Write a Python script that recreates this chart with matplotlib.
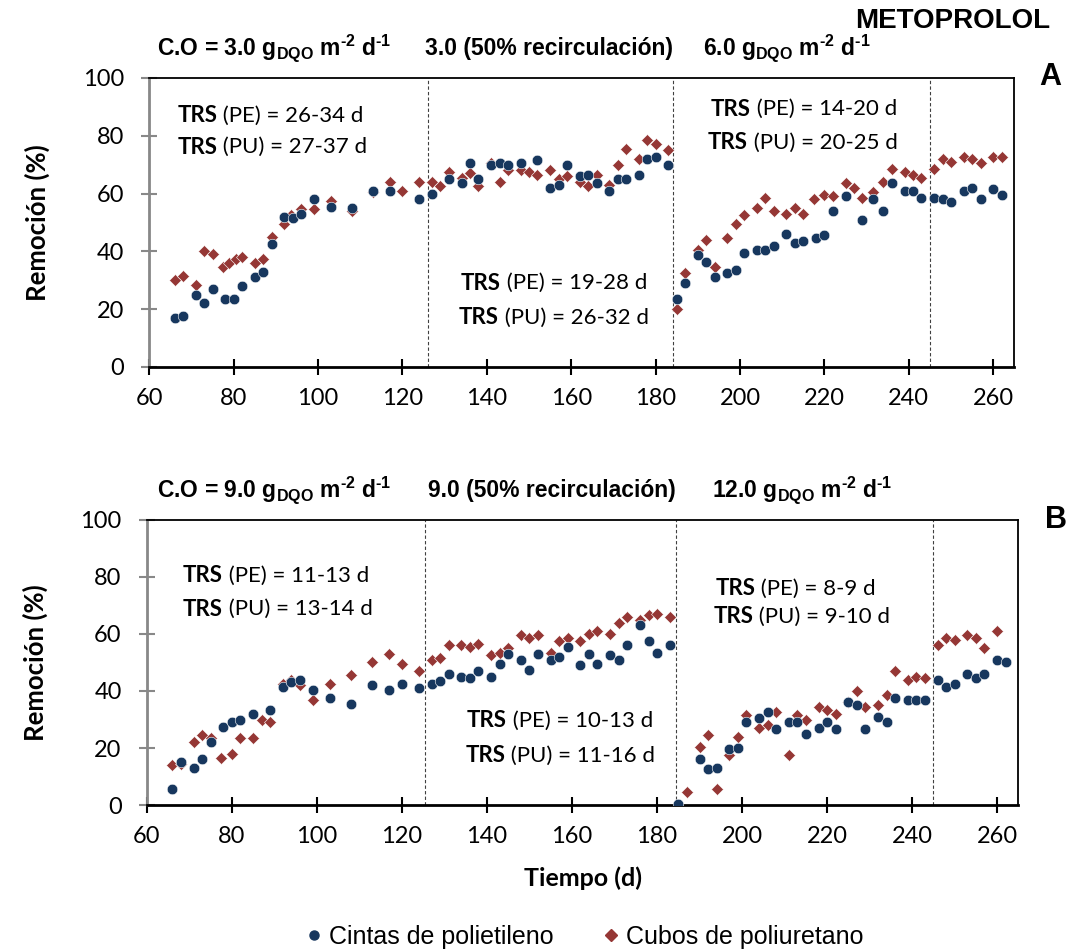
import matplotlib
matplotlib.use('Agg')
import matplotlib.pyplot as plt
from matplotlib import font_manager
from matplotlib.lines import Line2D

# data: day and removal (%) for each carrier
a_pe_day = [66, 68, 71, 73, 75, 78, 80, 82, 85, 87, 89, 92, 94, 96, 99, 103, 108, 113, 117, 124,
            127, 131, 134, 136, 138, 141, 143, 145, 148, 152, 155, 157, 159, 162, 164, 166, 169, 171, 173, 176,
            178, 180, 183, 185, 187, 190, 192, 194, 197, 199, 201, 204, 206, 208, 211, 213, 215, 218, 220, 222,
            225, 229, 231.5, 234, 236, 239, 241, 243, 246, 248, 250, 253, 255, 257, 260, 262]
a_pe_val = [17, 17.5, 25, 22, 27, 23.5, 23.5, 28, 31, 33, 42.5, 52, 51.5, 53, 58, 55.5, 55, 61, 61, 58,
            60, 65, 63.5, 70.5, 65, 70, 70.5, 70, 70.5, 71.5, 62, 63, 70, 66, 66.5, 63.5, 61, 65, 65, 66.5,
            72, 72.5, 70, 23.5, 29, 38.7, 36.5, 31, 32.5, 33.5, 39.5, 40.5, 40.5, 42, 46, 43, 43.5, 44.5, 45.5, 54,
            59, 51, 58, 54, 63.5, 61, 61, 58.5, 58.5, 58, 57, 61, 62, 58, 61.5, 59.5]

a_pu_day = [66, 68, 71, 73, 75, 77.5, 79, 80.5, 82, 85, 87, 89, 92, 93.5, 96, 99, 103, 108, 113, 117,
            120, 124, 127, 129, 131, 134, 136, 138, 141, 143, 145, 148, 150, 152, 155, 157, 159, 162, 164, 166,
            169, 171, 173, 176, 178, 180, 183, 185, 187, 190, 192, 194, 197, 199, 201, 204, 206, 208, 211, 213,
            215, 217.5, 220, 222, 225, 227, 229, 231.5, 234, 236, 239, 241, 243, 246, 248, 250, 253, 255, 257, 260,
            262]
a_pu_val = [30, 31.5, 28.5, 40, 39, 34.5, 36, 37.5, 38, 36, 37.5, 45, 49.5, 52.5, 54.5, 54.5, 57.5, 54, 60.5, 64,
            61, 64, 64, 62.5, 67.5, 65.5, 67, 62.5, 70.5, 64, 68, 68, 67.5, 66.5, 68, 65, 66, 64, 62.5, 66.5,
            63, 70, 75.5, 72, 78.5, 77, 75, 20, 32.5, 40.5, 44, 34.5, 44.5, 49.5, 52.5, 55, 58.5, 54, 53, 55,
            53, 58, 59.5, 59, 63.5, 62, 58.5, 60.5, 64, 68.5, 67.5, 66.5, 65.5, 68.5, 72, 71, 72.5, 72, 70.5, 72.5,
            72.5]

b_pe_day = [66, 68, 71, 73, 75, 78, 80, 82, 85, 89, 92, 94, 96, 99, 103, 108, 113, 117, 120, 124,
            127, 129, 131, 134, 136, 138, 141, 143, 145, 148, 150, 152, 155, 157, 159, 162, 164, 166, 169, 171,
            173, 176, 178, 180, 183, 185, 190, 192, 194, 197, 199, 201, 204, 206, 208, 211, 213, 215, 218, 220,
            222, 225, 227, 229, 232, 234, 236, 239, 241, 243, 246, 248, 250, 253, 255, 257, 260, 262]
b_pe_val = [5.5, 15, 13, 16, 22, 27.5, 29, 30, 32, 33.5, 41.5, 43, 44, 40.5, 37.5, 35.5, 42, 40.5, 42.5, 41,
            42.5, 43.5, 46, 45, 44.5, 47, 45, 49.5, 53, 51, 47.5, 53, 51, 52, 55.5, 49, 53, 49.5, 52.5, 51,
            56, 63, 57.5, 53.5, 56, 0.5, 16, 12.5, 13, 19.5, 20, 29, 30.5, 32.5, 26.5, 29, 29, 25, 27, 29,
            26.5, 36, 35, 26.5, 31, 29, 37.5, 37, 37, 37, 44, 41.5, 42.5, 46, 44.5, 46, 51, 50]

b_pu_day = [66, 68, 71, 73, 75, 77.5, 80, 82, 85, 87, 89, 92, 94, 96, 99, 103, 108, 113, 117, 120,
            124, 127, 129, 131, 134, 136, 138, 141, 143, 145, 148, 150, 152, 155, 157, 159, 162, 164, 166, 169,
            171, 173, 176, 178, 180, 183, 187, 190, 192, 194, 197, 199, 201, 204, 206, 208, 211, 213, 215, 218,
            220, 222, 225, 227, 229, 232, 234, 236, 239, 241, 243, 246, 248, 250, 253, 255, 257, 260]
b_pu_val = [14, 14.5, 22, 24.5, 23.5, 16.5, 18, 23.5, 23.5, 30, 29, 42.5, 44, 42, 37, 42.5, 45.5, 50, 53, 49.5,
            47, 51, 51.5, 56, 56, 55.5, 56.5, 52.5, 53.5, 55, 59.5, 58.5, 59.5, 53.5, 57.5, 58.5, 57.5, 60, 61, 60,
            64, 66, 65, 66.5, 67, 66, 4.5, 20.5, 24.5, 5.5, 17.5, 24, 31.5, 27, 28, 32.5, 17.5, 31.5, 30, 34.5,
            33.5, 32, 36, 40, 34.5, 35, 38.5, 47, 44, 45, 44.5, 56, 58.5, 58, 59.5, 58.5, 55, 61]

# phase limits (days) and labels
a_limits = [126, 184, 245]
b_limits = [125.5, 184.5, 245]
hy = '\u2010'  # plain hyphen inside the superscripts
a_phases = [r'C.O = 3.0 g$_{\mathrm{DQO}}$ m$^{\mathrm{' + hy + r'2}}$ d$^{\mathrm{' + hy + r'1}}$',
            '3.0 (50% recirculación)',
            r'6.0 g$_{\mathrm{DQO}}$ m$^{\mathrm{' + hy + r'2}}$ d$^{\mathrm{' + hy + r'1}}$']
b_phases = [r'C.O = 9.0 g$_{\mathrm{DQO}}$ m$^{\mathrm{' + hy + r'2}}$ d$^{\mathrm{' + hy + r'1}}$',
            '9.0 (50% recirculación)',
            r'12.0 g$_{\mathrm{DQO}}$ m$^{\mathrm{' + hy + r'2}}$ d$^{\mathrm{' + hy + r'1}}$']

# TRS notes: (x, y, rest of text)
a_trs = [(66.6, 87, ' (PE) = 26-34 d'), (66.6, 76, ' (PU) = 27-37 d'),
         (133.9, 29, ' (PE) = 19-28 d'), (133.4, 17, ' (PU) = 26-32 d'),
         (193.1, 89.2, ' (PE) = 14-20 d'), (192.3, 77.6, ' (PU) = 20-25 d')]
b_trs = [(68.5, 80.5, ' (PE) = 11-13 d'), (68.5, 68.7, ' (PU) = 13-14 d'),
         (135.3, 29.6, ' (PE) = 10-13 d'), (134.9, 17.3, ' (PU) = 11-16 d'),
         (193.7, 76, ' (PE) = 8-9 d'), (193.2, 66.1, ' (PU) = 9-10 d')]

blue = '#17375E'
red = '#953735'

names = {f.name for f in font_manager.fontManager.ttflist}
narrow = 'Liberation Sans Narrow' if 'Liberation Sans Narrow' in names else 'Liberation Sans'

plt.rcParams['font.family'] = ['Lato', 'DejaVu Sans']
plt.rcParams['mathtext.fontset'] = 'custom'
plt.rcParams['mathtext.rm'] = narrow + ':bold'
plt.rcParams['mathtext.it'] = narrow + ':bold'
plt.rcParams['mathtext.bf'] = narrow + ':bold'

fig = plt.figure(figsize=(10.68, 9.52), dpi=100)
ax1 = fig.add_axes([0.1398, 0.6145, 0.8099, 0.3036])
ax2 = fig.add_axes([0.1374, 0.1544, 0.8162, 0.2994])


def draw_panel(ax, pe_day, pe_val, pu_day, pu_val, limits, trs):
    ax.plot(pu_day, pu_val, 'D', color=red, ms=6.6, mec='white', mew=0.4, zorder=3)
    ax.plot(pe_day, pe_val, 'o', color=blue, ms=7.6, mec='white', mew=0.4, zorder=4)
    for x in limits:
        ax.axvline(x, color='#404040', lw=0.8, linestyle=(0, (3, 2)), zorder=1)
    ax.set_xlim(60, 265)
    ax.set_ylim(0, 100)
    ax.set_xticks(range(60, 261, 20))
    ax.set_yticks(range(0, 101, 20))
    ax.tick_params(axis='x', direction='inout', length=12, width=1.5, color='black',
                   labelsize=17, pad=9)
    ax.tick_params(axis='y', direction='inout', length=12, width=1.5, color='#888888',
                   labelsize=17, pad=12)
    ax.spines['left'].set_color('#888888')
    ax.spines['left'].set_linewidth(2)
    ax.spines['bottom'].set_linewidth(2)
    ax.spines['top'].set_linewidth(1.3)
    ax.spines['right'].set_linewidth(1.3)
    ax.set_ylabel('Remoción (%)', fontsize=18.5, fontweight='bold')
    ax.yaxis.set_label_coords(-0.115, 0.5)
    # TRS notes, bold "TRS" followed by normal text
    for x, y, rest in trs:
        t = ax.text(x, y, 'TRS', fontsize=16, fontweight='bold', ha='left', va='center')
        ax.annotate(rest, xy=(1, 0.5), xycoords=t, fontsize=16, ha='left', va='center')


draw_panel(ax1, a_pe_day, a_pe_val, a_pu_day, a_pu_val, a_limits, a_trs)
draw_panel(ax2, b_pe_day, b_pe_val, b_pu_day, b_pu_val, b_limits, b_trs)
ax2.yaxis.set_label_coords(-0.113, 0.5)
ax2.set_xlabel('Tiempo (d)', fontsize=18, fontweight='bold')
ax2.xaxis.set_label_coords(0.5, -0.215)

# phase titles above each panel (pixel positions converted to figure fraction)
W, H = 1068.0, 952.0
for x, s in zip([157, 425, 703], a_phases):
    fig.text(x / W, 1 - 55 / H, s, fontsize=16.5, fontweight='bold', family=narrow, va='baseline')
for x, s in zip([157, 428, 712], b_phases):
    fig.text(x / W, 1 - 497 / H, s, fontsize=16.5, fontweight='bold', family=narrow, va='baseline')

fig.text(1050 / W, 1 - 28 / H, 'METOPROLOL', fontsize=20, fontweight='bold', family=narrow,
         ha='right', va='baseline')
fig.text(1050 / W, 1 - 85 / H, 'A', fontsize=22, fontweight='bold', family='Liberation Sans',
         ha='center', va='baseline')
fig.text(1056 / W, 1 - 528 / H, 'B', fontsize=22, fontweight='bold', family='Liberation Sans',
         ha='center', va='baseline')

handles = [Line2D([], [], marker='o', ls='', color=blue, ms=6.5),
           Line2D([], [], marker='D', ls='', color=red, ms=6)]
fig.legend(handles, ['Cintas de polietileno', 'Cubos de poliuretano'], loc='center',
           bbox_to_anchor=(0.5454, 1 - 937 / H), ncol=2, frameon=False,
           prop={'family': narrow, 'size': 18}, handletextpad=0.1, columnspacing=1.8,
           handlelength=1.0)

plt.savefig('out.png', dpi=100)
